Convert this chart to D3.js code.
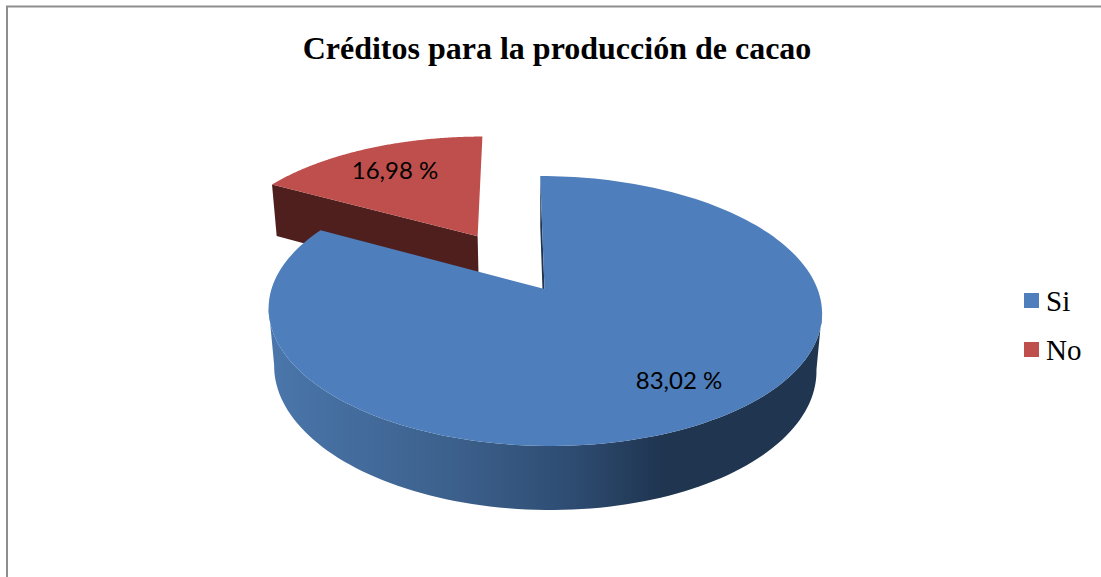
<!DOCTYPE html>
<html>
<head>
<meta charset="utf-8">
<script src="https://cdn.jsdelivr.net/npm/d3@7"></script>
<style>
  body { margin: 0; background: #fff; }
  svg { display: block; }
</style>
</head>
<body>
<div id="chart"></div>
<script>
const chartTitle = 'Créditos para la producción de cacao';
const categories = ['Si', 'No'];
const percentValues = [83.02, 16.98];
const valueLabels = ['83,02 %', '16,98 %'];
const topColors = ['#4e7ebb', '#bf4f4c'];
const explodes = [0, 0.5];

const width = 1101, height = 577;

const svg = d3.select('#chart').append('svg')
    .attr('width', width)
    .attr('height', height);

// Marco gris (solo arriba e izquierda quedan dentro del recorte)
svg.append('path')
    .attr('d', `M7,${height}V6.5H${width}`)
    .attr('fill', 'none')
    .attr('stroke', '#8e8e8e')
    .attr('stroke-width', 2);

svg.append('text')
    .attr('x', 557)
    .attr('y', 59)
    .attr('text-anchor', 'middle')
    .style('font-family', '"Liberation Serif"')
    .style('font-weight', 'bold')
    .style('font-size', '32px')
    .text(chartTitle);

// Proyección en perspectiva: disco unidad (u, v), z = 0 arriba, z = 1 abajo
function project(u, v, z) {
    const w = 1 + 0.163 * v + 0.02 * z;
    return [544.5 + (273 * u - 5 * v) / w, (289 - 84.3 * v + 63.8 * z) / w];
}

const pie = d3.pie().sort(null);
const arcs = pie(percentValues);

const line = d3.line().curve(d3.curveLinearClosed);

// Puntos del borde de una porción, ya desplazada por su explosión
function rim(a, explode, z) {
    const mid = (a.startAngle + a.endAngle) / 2;
    const ox = explode * Math.sin(mid), oy = explode * Math.cos(mid);
    return d3.range(0, 181).map(i => {
        const t = a.startAngle + (a.endAngle - a.startAngle) * i / 180;
        return project(ox + Math.sin(t), oy + Math.cos(t), z);
    });
}

function apex(a, explode, z) {
    const mid = (a.startAngle + a.endAngle) / 2;
    return project(explode * Math.sin(mid), explode * Math.cos(mid), z);
}

const defs = svg.append('defs');
const wallGrad = defs.append('linearGradient')
    .attr('id', 'blueWall')
    .attr('gradientUnits', 'userSpaceOnUse')
    .attr('x1', 272).attr('x2', 816)
    .attr('y1', 0).attr('y2', 0);
[[0, '#4a76ab'], [0.35, '#3b5f8a'], [0.55, '#2e4c72'], [0.72, '#1f3550'], [1, '#1f3550']]
    .forEach(s => wallGrad.append('stop').attr('offset', s[0]).attr('stop-color', s[1]));

function drawSlice(i, wallColor) {
    const a = arcs[i], e = explodes[i];
    const top = rim(a, e, 0), bottom = rim(a, e, 1);
    const c0 = apex(a, e, 0), c1 = apex(a, e, 1);

    // Pared de corte en el ángulo inicial
    svg.append('path')
        .attr('d', line([c0, top[0], bottom[0], c1]))
        .attr('fill', i === 0 ? '#1f3550' : wallColor);

    // Pared exterior: solo el tramo frontal, entre los extremos derecho e izquierdo
    if (i === 0) {
        const right = d3.greatestIndex(top, p => p[0]);
        const left = d3.leastIndex(top, p => p[0]);
        const front = top.slice(right, left + 1);
        const frontBottom = bottom.slice(right, left + 1).reverse();
        svg.append('path')
            .attr('d', line(front.concat(frontBottom)))
            .attr('fill', wallColor);
    }

    // Cara superior
    svg.append('path')
        .attr('d', line([c0].concat(top)))
        .attr('fill', topColors[i]);
}

drawSlice(1, '#4f1f1e');
drawSlice(0, 'url(#blueWall)');

// Etiquetas de datos
const labelPos = [[679, 381], [395, 171]];
valueLabels.forEach((t, i) => {
    svg.append('text')
        .attr('x', labelPos[i][0])
        .attr('y', labelPos[i][1] + 8)
        .attr('text-anchor', 'middle')
        .style('font-family', 'Lato')
        .style('font-size', '24px')
        .attr('fill', '#000')
        .text(t);
});

// Leyenda
const legend = svg.append('g').attr('transform', 'translate(1024,293)');
categories.forEach((c, i) => {
    const row = legend.append('g').attr('transform', `translate(0,${i * 49})`);
    row.append('rect')
        .attr('width', 15)
        .attr('height', 15)
        .attr('fill', topColors[i]);
    row.append('text')
        .attr('x', 22)
        .attr('y', 18)
        .style('font-family', '"Liberation Serif"')
        .style('font-size', '29px')
        .text(c);
});
</script>
</body>
</html>
